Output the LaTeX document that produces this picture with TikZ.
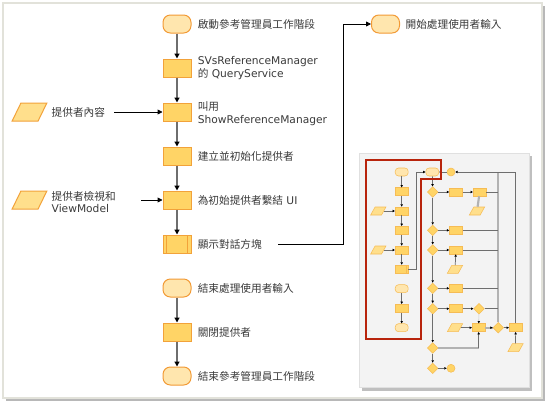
\documentclass[tikz,border=0pt]{standalone}
\usepackage{fontspec}
\setmainfont{DejaVu Sans}
\newfontfamily\cjkfont{Noto Sans CJK TC}
\newcommand{\zh}[1]{{\cjkfont #1}}
\usetikzlibrary{arrows.meta,positioning,shapes.geometric,calc}
\definecolor{procFill}{HTML}{FFD466}
\definecolor{procDraw}{HTML}{F2A23A}
\definecolor{termFill}{HTML}{FFE6AE}
\definecolor{termDraw}{HTML}{F29A35}
\definecolor{inFill}{HTML}{FFDF8C}
\definecolor{sDraw}{HTML}{F6BC55}
\definecolor{txt}{HTML}{3A3A3A}
\definecolor{flowGray}{HTML}{6E6E6E}
\definecolor{frameLine}{HTML}{E2E2DA}
\definecolor{panelFill}{HTML}{F3F3F3}
\definecolor{redLine}{HTML}{B8240C}
\tikzset{
  font=\fontsize{8}{9.6}\selectfont,
  proc/.style  ={draw=procDraw, fill=procFill, line width=0.75pt, minimum width=21pt, minimum height=13.5pt, inner sep=0pt},
  term/.style  ={proc, rounded corners=5.5pt, fill=termFill, draw=termDraw},
  predef/.style={proc, path picture={
      \draw[procDraw, line width=0.6pt]
        ([xshift=2.6pt]path picture bounding box.north west) -- ([xshift=2.6pt]path picture bounding box.south west)
        ([xshift=-2.6pt]path picture bounding box.north east) -- ([xshift=-2.6pt]path picture bounding box.south east);}},
  indata/.style={trapezium, trapezium left angle=63, trapezium right angle=117, trapezium stretches=true,
                 draw=procDraw, fill=inFill, line width=0.75pt, minimum width=26pt, minimum height=13.5pt, inner sep=0.2pt},
  lbl/.style   ={anchor=west, align=left, text=txt, inner sep=0pt},
  flow/.style  ={draw=flowGray, line width=1.1pt, -{Triangle[length=3.6pt,width=3.6pt,color=black]}},
  link/.style  ={draw=black, line width=0.6pt, -{Triangle[length=3.6pt,width=3.6pt]}},
  % thumbnail
  sproc/.style ={draw=sDraw, fill=procFill, line width=0.4pt, minimum width=9.75pt, minimum height=6pt, inner sep=0pt},
  sterm/.style ={sproc, rounded corners=2.5pt, fill=termFill},
  spre/.style  ={sproc, path picture={
      \draw[sDraw, line width=0.4pt]
        ([xshift=-1.2pt]path picture bounding box.north east) -- ([xshift=-1.2pt]path picture bounding box.south east);}},
  sdia/.style  ={diamond, draw=sDraw, fill=procFill, line width=0.4pt, minimum width=8pt, minimum height=8pt, inner sep=0pt},
  sin/.style   ={trapezium, trapezium left angle=55, trapezium right angle=125, trapezium stretches=true,
                 draw=sDraw, fill=inFill, line width=0.4pt, minimum width=11.5pt, minimum height=6pt, inner sep=0.2pt},
  sdot/.style  ={circle, draw=sDraw, fill=procFill, line width=0.4pt, minimum size=6pt, inner sep=0pt},
  slink/.style ={draw=flowGray, line width=0.55pt, -{Triangle[length=1.8pt,width=1.8pt,color=black]}},
  sline/.style ={draw=flowGray, line width=0.55pt},
  sgray/.style ={draw=black!30, line width=1.6pt},
}
\begin{document}
\begin{tikzpicture}[x=0.75pt, y=-0.75pt]
  \useasboundingbox (0,0) rectangle (551,408);
  % frame with shadow
  \fill[black!28] (6,6) rectangle (545,401);
  \draw[frameLine, fill=white, line width=0.9pt] (3,3) rectangle (542,398);

  % main column
  \node[term]   (s1) at (177,24)  {};
  \node[proc]   (s2) at (177,68)  {};
  \node[proc]   (s3) at (177,112) {};
  \node[proc]   (s4) at (177,156) {};
  \node[proc]   (s5) at (177,200) {};
  \node[predef] (s6) at (177,244) {};
  \node[term]   (s7) at (177,288) {};
  \node[proc]   (s8) at (177,332) {};
  \node[term]   (s9) at (177,376) {};

  \node[lbl, right=4.5pt of s1] (l1) {\zh{啟動參考管理員工作階段}};
  \node[lbl, right=4.5pt of s2] (l2) {SVsReferenceManager\\\zh{的} QueryService};
  \node[lbl, right=4.5pt of s3, yshift=-1.2pt] (l3) {\zh{叫用}\\ShowReferenceManager};
  \node[lbl, right=4.5pt of s4] (l4) {\zh{建立並初始化提供者}};
  \node[lbl, right=4.5pt of s5] (l5) {\zh{為初始提供者繫結} UI};
  \node[lbl, right=4.5pt of s6] (l6) {\zh{顯示對話方塊}};
  \node[lbl, right=4.5pt of s7] (l7) {\zh{結束處理使用者輸入}};
  \node[lbl, right=4.5pt of s8] (l8) {\zh{關閉提供者}};
  \node[lbl, right=4.5pt of s9] (l9) {\zh{結束參考管理員工作階段}};

  \foreach \a/\b in {s1/s2, s2/s3, s3/s4, s4/s5, s5/s6, s7/s8, s8/s9}
    \draw[flow] (\a) -- (\b);

  % inputs on the left
  \node[indata] (in1) at (29.5,112) {};
  \node[indata] (in2) at (29.5,200) {};
  \node[lbl, right=6.3pt of in1] (il1) {\zh{提供者內容}};
  \node[lbl, right=6.3pt of in2, yshift=-1.5pt] (il2) {\zh{提供者檢視和}\\ViewModel};
  \coordinate (a1) at (114,112);
  \coordinate (a2) at (141,200);
  \draw[link] (a1) -- (s3);
  \draw[link] (a2) -- (s5);

  % jump to user input
  \node[term] (uin) at (385.5,24) {};
  \node[lbl, right=4pt of uin] (ul) {\zh{開始處理使用者輸入}};
  \coordinate (a6) at (278,244);
  \coordinate (up) at (343,24);
  \draw[link] (a6) -| (up) -- (uin);

  % thumbnail panel
  \fill[black!25] (361.5,155.5) rectangle (531.5,390.5);
  \draw[black!12, fill=panelFill, line width=0.5pt] (359,153) rectangle (529,387);

  \node[sterm] (t1) at (401.7,172)   {};
  \node[sproc] (t2) at (401.7,191.7) {};
  \node[sproc] (t3) at (401.7,211)   {};
  \node[sproc] (t4) at (401.7,230.3) {};
  \node[sproc] (t5) at (401.7,250)   {};
  \node[spre]  (t6) at (401.7,269)   {};
  \node[sterm] (t7) at (401.7,288.7) {};
  \node[sproc] (t8) at (401.7,308.3) {};
  \node[sterm] (t9) at (401.7,327.7) {};
  \node[sin] (tp1) at (378.3,211) {};
  \node[sin] (tp2) at (378.3,250) {};
  \foreach \a/\b in {t1/t2, t2/t3, t3/t4, t4/t5, t5/t6, t7/t8, t8/t9, tp1/t3, tp2/t5}
    \draw[slink] (\a) -- (\b);

  \node[sterm] (u1) at (432.3,172) {};
  \node[sdot]  (c1) at (451,172)   {};
  \coordinate (tk) at (416.3,172);
  \draw[slink] (t6.east) -| (tk) -- (u1);
  \draw[slink] (c1) -- (u1);

  \node[sdia] (d1) at (432.7,192)   {};
  \node[sdia] (d2) at (432.7,230.3) {};
  \node[sdia] (d3) at (432.7,250)   {};
  \node[sdia] (d4) at (432.7,288.3) {};
  \node[sdia] (d5) at (432.7,308.7) {};
  \node[sdia] (d6) at (432.7,348)   {};
  \node[sdia] (d7) at (432.7,368.3) {};
  \node[sdot] (c2) at (451,368.3)   {};
  \foreach \a/\b in {u1/d1, d1/d2, d2/d3, d3/d4, d4/d5, d5/d6, d6/d7, d7/c2}
    \draw[slink] (\a) -- (\b);

  \node[sproc] (r1)  at (456,192)     {};
  \node[sproc] (r1b) at (479.7,192)   {};
  \node[sproc] (r2)  at (456,230.3)   {};
  \node[sproc] (r3)  at (456,250)     {};
  \node[sproc] (r4)  at (456,288.3)   {};
  \node[sproc] (r5)  at (456,308.7)   {};
  \node[sdia]  (dd)  at (479,308.7)   {};
  \node[sproc] (r6)  at (478.7,327.7) {};
  \node[sdia]  (dg)  at (498.3,327.7) {};
  \node[sproc] (r7)  at (515.7,327.7) {};
  \node[sin] (pa) at (477,211)     {};
  \node[sin] (pb) at (455,269.3)   {};
  \node[sin] (pc) at (455,327.7)   {};
  \node[sin] (pd) at (515.5,347.7) {};

  \foreach \a/\b in {d1/r1, r1/r1b, d2/r2, d3/r3, d4/r4, d5/r5, r5/dd, pb/r3, pc/r6, dg/r7, pd/r7}
    \draw[slink] (\a) -- (\b);
  \draw[sgray] (pa) -- (r1b);
  \draw[black!20, line width=0.5pt, -{Triangle[length=1.8pt,width=1.8pt,color=black]}] (dd) -- (r6);
  \draw[sgray] (r6) -- (dg);
  \draw[slink] (dg.west) ++(-1pt,0) -- (dg.west);

  % gray bar and loop back
  \coordinate (bt) at (498.3,172);
  \draw[sgray] (dg.north) -- (bt);
  \draw[slink] (r7.north) |- (c1);
  \foreach \n in {r1b, r2, r3, r4, dd}
    \draw[sline] (\n.east) -- (\n.east -| bt);
  \coordinate (dk) at (478.7,348);
  \draw[sgray] (d6) -- (dk);
  \draw[slink] (dk) -- (r6);

  % selected part
  \draw[redLine, line width=1.4pt, line join=miter]
    (365.7,160) -- (441,160) -- (441,179.3) -- (421,179.3) -- (421,339.3) -- (365.7,339.3) -- cycle;
\end{tikzpicture}
\end{document}
